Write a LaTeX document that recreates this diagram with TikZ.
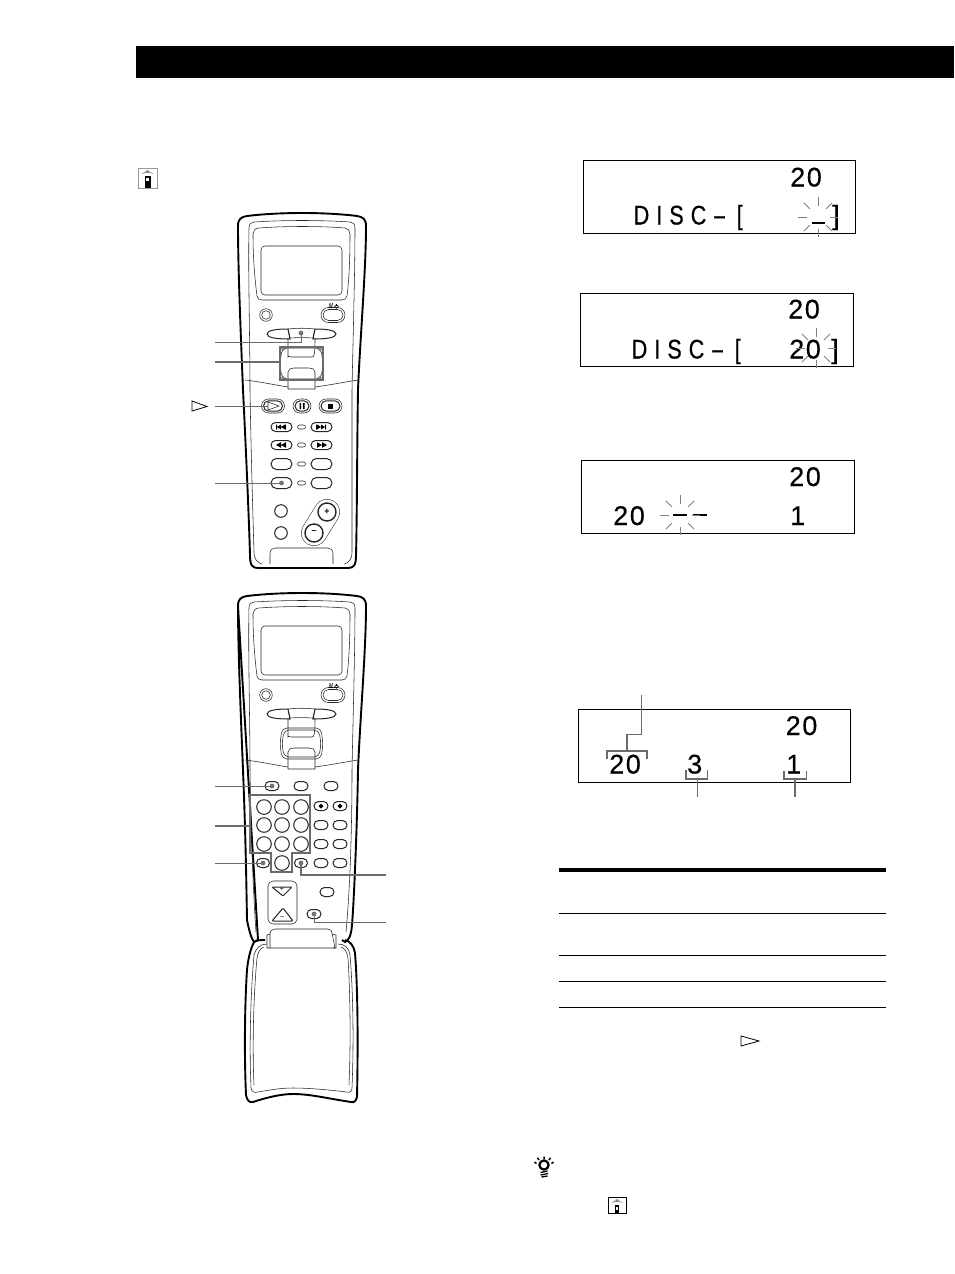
\documentclass[tikz,border=0pt]{standalone}
\usepackage{fontspec}
\setmainfont{Liberation Sans}
\newfontfamily\lcdfont[LetterSpace=6,FakeBold=0.25]{Liberation Sans}
\newfontfamily\lcdwide[LetterSpace=26,FakeStretch=0.8,FakeBold=0.35]{Liberation Sans}
\colorlet{linegray}{black!58}
\newcommand{\longdash}{\kern6pt\scalebox{2}[1]{-}\kern10pt}
\tikzset{
  thinl/.style={line width=0.55pt,draw=black!85},
  medl/.style={line width=1pt,draw=black!85},
  outerl/.style={line width=1.9pt,draw=black,line join=round},
  callout/.style={line width=0.9pt,draw=linegray},
  calloutb/.style={line width=1.5pt,draw=linegray},
  lcdbox/.style={line width=0.9pt,draw=black},
  ray/.style={line width=0.8pt,draw=black!50},
  lcd/.style={anchor=base west,inner sep=0pt,font=\lcdfont\fontsize{27}{27}\selectfont},
  lcdw/.style={anchor=base west,inner sep=0pt,font=\lcdwide\fontsize{27}{27}\selectfont},
  rule/.style={line width=1pt,draw=black},
  gdot/.style={fill=black!55,draw=none},
  smalltxt/.style={inner sep=0pt,font=\fontsize{7}{7}\selectfont\bfseries}
}
% x, y, half width, half height, style
\newcommand{\pill}[5][thinl]{\draw[#1,fill=white,rounded corners={#5 pt}] ({#2-#4},{#3-#5}) rectangle ({#2+#4},{#3+#5});}
\newcommand{\burst}[2]{\foreach \a in {0,45,...,315}{\draw[ray] ({#1+11.5*cos(\a)},{#2+11.5*sin(\a)}) -- ({#1+20*cos(\a)},{#2+20*sin(\a)});}}
% left, top, right, bottom, frame style, bar half width
\newcommand{\infoicon}[6]{%
  \draw[#5] (#1,#2) rectangle (#3,#4);
  \fill[black] ({(#1+#3)/2-#6},{#2+7.5}) rectangle ({(#1+#3)/2+#6},{#4});
  \fill[white] ({(#1+#3)/2-#6*0.45},{#2+9.5}) rectangle ({(#1+#3)/2+#6*0.45},{#2+12.5});
  \foreach \r in {0,1.2,2.4}{\draw[line width=0.55pt,black!55] ({(#1+#3)/2-1.5-1.6*\r},{#2+3.2+\r*0.9}) .. controls ({(#1+#3)/2-1},{#2+2.2+\r*0.8}) and ({(#1+#3)/2+1},{#2+2.2+\r*0.8}) .. ({(#1+#3)/2+1.5+1.6*\r},{#2+3.2+\r*0.9});}
}
\newcommand{\headparts}{%
  % inner contour of the head
  \draw[thinl] (250,390) .. controls (250,340) and (248,270) .. (249,228) .. controls (249,224) and (251,222) .. (254,222) .. controls (285,220) and (320,220) .. (350,222) .. controls (353,222) and (355,224) .. (355,228) .. controls (355,270) and (353,340) .. (352,390);
  % display bezel and window
  \draw[thinl] (259,228) .. controls (285,226) and (320,226) .. (345,228) .. controls (348,228) and (350,231) .. (350,234) .. controls (350,260) and (349,280) .. (347,296) .. controls (346,299) and (344,300) .. (342,300) -- (262,300) .. controls (259,300) and (257,298) .. (257,296) .. controls (255,280) and (253,260) .. (253,234) .. controls (253,231) and (255,228) .. (259,228) -- cycle;
  \draw[thinl,rounded corners=4pt] (261,246) rectangle (342,295);
  % round button and power button
  \draw[thinl] (266,315) circle (6.3);
  \draw[thinl] (266,315) circle (4.3);
  \pill[thinl]{333}{315}{12}{7.5}
  \pill[thinl]{333}{315}{10}{5.5}
  \node[smalltxt] (pw) at (331,306) {I/};
  \draw[line width=0.6pt,black] (336.5,306.4) circle (1.9);
  \draw[line width=0.6pt,black] (336.5,303.6) -- (336.5,306);
  % three buttons
  \draw[medl] (288,329) .. controls (278,329) and (267,330) .. (267,334) .. controls (267,338) and (278,339) .. (290,339) -- cycle;
  \draw[medl] (315,329) .. controls (325,329) and (336,330) .. (336,334) .. controls (336,338) and (325,339) .. (313,339) -- cycle;
  \draw[thinl] (288,329) .. controls (297,328) and (306,328) .. (315,329) -- (313,338) .. controls (305,337.5) and (298,337.5) .. (290,338) -- cycle;
  % stem and joystick
  \draw[thinl] (288,338) -- (288,357) .. controls (288,356) and (289,356.5) .. (291,357) -- (312,357) .. controls (314,356.5) and (315,356) .. (315,338);
  \draw[thinl] (288,389) -- (288,372) .. controls (288,369) and (291,368) .. (294,368) -- (309,368) .. controls (312,368) and (315,369) .. (315,372) -- (315,389) -- (288,389);
  \draw[thinl,rounded corners=5pt] (282,348) -- (321,348) -- (323,364) -- (321,379) -- (282,379) -- (280,364) -- cycle;
  % sweep of the panel edge
  \draw[thinl] (245,380) .. controls (262,382) and (275,385) .. (288,387);
  \draw[thinl] (315,387) .. controls (330,385) and (345,382) .. (358,380);
}
\begin{document}
\begin{tikzpicture}[x=1pt,y=-1pt]
\useasboundingbox (0,0) rectangle (954,1274);
\fill[white] (0,0) rectangle (954,1274);
% header band
\fill[black] (136,46) rectangle (954,78);
\infoicon{138}{168}{157}{188}{line width=0.9pt,draw=black!40}{3}

%% ---- upper remote ----
\draw[outerl] (238,226) .. controls (238,219) and (241,217) .. (247,216) .. controls (280,212) and (325,212) .. (357,216) .. controls (363,217) and (366,219) .. (366,226) .. controls (366,270) and (360,340) .. (358,390) .. controls (357,450) and (357,520) .. (356,555) .. controls (356,565) and (354,568) .. (348,568) -- (258,568) .. controls (252,568) and (250,565) .. (250,555) .. controls (249,520) and (246,450) .. (243,390) .. controls (241,340) and (238,270) .. (238,226) -- cycle;
\headparts
\draw[thinl] (250,390) .. controls (251,450) and (253,520) .. (254,552) .. controls (254,560) and (258,563) .. (262,564);
\draw[thinl] (352,390) .. controls (352,450) and (352,520) .. (352,552) .. controls (352,560) and (348,563) .. (344,564);
% transport row
\pill[thinl]{273}{406}{11.5}{7}\pill[medl]{273}{406}{9.5}{5.2}
\pill[thinl]{302}{406}{9}{7}\pill[medl]{302}{406}{7}{5.2}
\pill[thinl]{330.5}{406}{11.5}{7}\pill[medl]{330.5}{406}{9.5}{5.2}
\draw[thinl] (268,402) -- (279,406) -- (268,410) -- cycle;
\fill[black] (299.5,403) rectangle (301.2,409) (302.8,403) rectangle (304.5,409);
\fill[black] (328,403.5) rectangle (333,408.5);
% rows
\foreach \yy/\ry in {427/4.5,445/4.5,464/5.5,483/5.5}{
  \pill[medl]{281.5}{\yy}{10.5}{\ry}
  \pill[medl]{321.5}{\yy}{10.5}{\ry}
  \pill[thinl]{301.5}{\yy}{4}{2}
}
\fill[black] (276,424.5) rectangle (277,429.5) (277,427) -- (281,424.5) -- (281,429.5) -- cycle (281,427) -- (285,424.5) -- (285,429.5) -- cycle (285,424.5) rectangle (286,429.5);
\fill[black] (316,424.5) rectangle (317,429.5) (317,424.5) -- (321,427) -- (317,429.5) -- cycle (321,424.5) -- (325,427) -- (321,429.5) -- cycle (325,424.5) rectangle (326,429.5);
\fill[black] (276,445) -- (281,442.2) -- (281,447.8) -- cycle (281,445) -- (286,442.2) -- (286,447.8) -- cycle;
\fill[black] (317,442.2) -- (322,445) -- (317,447.8) -- cycle (322,442.2) -- (327,445) -- (322,447.8) -- cycle;
% small round buttons
\draw[medl] (281,511) circle (6.3);
\draw[medl] (281,533) circle (6.3);
% volume capsule
\draw[line width=26pt,line cap=round,black!85] (327,512) -- (314,533);
\draw[line width=25pt,line cap=round,white] (327,512) -- (314,533);
\draw[medl,line width=1.4pt,fill=white] (327,512) circle (9);
\draw[medl,line width=1.4pt,fill=white] (314,533) circle (9);
\node[inner sep=0pt,font=\fontsize{9}{9}\selectfont\bfseries] (volp) at (327,511.5) {+};
\node[inner sep=0pt,font=\fontsize{9}{9}\selectfont\bfseries] (volm) at (314,532.5) {–};
% tab
\draw[thinl] (270,564) -- (270,554) .. controls (270,550) and (272,548) .. (275,548) -- (328,548) .. controls (331,548) and (333,550) .. (333,554) -- (333,564);
% highlights + callouts
\draw[calloutb] (280,347) rectangle (323,380);
\foreach \cx/\cy in {283/349,320/349,283/378,320/378}{\draw[thinl,fill=white] (\cx,\cy) circle (1.6);}
\coordinate (a1s) at (215,342);\coordinate (a1e) at (301,333);
\draw[callout] (a1s) -| (a1e);
\fill[gdot] (a1e) circle (2.4);
\coordinate (a2s) at (215,362);\coordinate (a2e) at (280,362);
\draw[calloutb] (a2s) -- (a2e);
\coordinate (a3s) at (215,406.5);\coordinate (a3e) at (268,406.5);
\draw[callout] (a3s) -- (a3e);
\coordinate (a4s) at (215,483);\coordinate (a4e) at (281.5,483);
\draw[callout] (a4s) -- (a4e);
\fill[gdot] (a4e) circle (2.4);
\draw[line width=0.8pt,black] (192,401) -- (207,406.5) -- (192,411) -- cycle;

%% ---- lower remote ----
\begin{scope}[shift={(0,380)}]
\draw[outerl] (238,226) .. controls (238,219) and (241,217) .. (247,216) .. controls (280,212) and (325,212) .. (357,216) .. controls (363,217) and (366,219) .. (366,226) .. controls (366,270) and (360,340) .. (358,390) .. controls (357,450) and (354,520) .. (352,545) .. controls (351,556) and (349,560) .. (345,562) -- (342,560) (258,560) -- (254,562) .. controls (251,558) and (249,550) .. (247,540) .. controls (246,480) and (245,440) .. (243,390) .. controls (241,340) and (238,270) .. (238,226) -- cycle;
\headparts
\draw[thinl] (250,390) .. controls (251,450) and (253,510) .. (256,552);
\draw[thinl] (352,390) .. controls (352,450) and (350,510) .. (346,552);
\end{scope}
% double line round the lower joystick is in \headparts
\draw[thinl,rounded corners=5pt] (284,730) -- (319,730) -- (321,744) -- (319,757) -- (284,757) -- (282,744) -- cycle;
% function row
\pill[medl]{272}{786}{7}{4.5}
\pill[medl]{301}{786}{7}{4.5}
\pill[medl]{331}{786}{7}{4.5}
\fill[gdot] (272,786) circle (2.4);
% numeric keys
\foreach \kx in {264,282,301}{\foreach \ky in {807,825,844}{\draw[medl] (\kx,\ky) circle (7.3);}}
\draw[medl] (282,863) circle (7.3);
\foreach \kx in {321,340}{\foreach \ky in {806,825,844,863}{\pill[medl]{\kx}{\ky}{7}{4.5}}}
\fill[black] (321,803.5) -- (323.5,806) -- (321,808.5) -- (318.5,806) -- cycle (340,803.5) -- (342.5,806) -- (340,808.5) -- (337.5,806) -- cycle;
\pill[medl]{263}{863}{6.5}{4.5}
\pill[medl]{301}{863}{6.5}{4.5}
% volume box
\draw[thinl,rounded corners=5pt] (268,881) rectangle (297,924);
\draw[medl,rounded corners=1pt] (272,887) -- (292,887) -- (283,896) -- cycle;
\draw[medl,rounded corners=1pt] (272,921) -- (293,921) -- (283,908) -- cycle;
\node[inner sep=0pt,font=\fontsize{7}{7}\selectfont] (vp2) at (282,889) {+};
\node[inner sep=0pt,font=\fontsize{7}{7}\selectfont] (vm2) at (282,917) {–};
\pill[medl]{327}{892}{7}{4.5}
\pill[medl]{314}{914}{7}{4.5}
% lid
\draw[outerl] (254,942) .. controls (257,940) and (261,940) .. (265,940) (345,940) .. controls (350,941) and (354,946) .. (355,953) .. controls (358,990) and (358,1050) .. (357,1097) .. controls (356,1101) and (354,1103) .. (351,1102) .. controls (325,1098) and (310,1094) .. (293,1094) .. controls (280,1094) and (265,1098) .. (253,1102) .. controls (249,1103) and (247,1100) .. (246,1095) .. controls (244,1050) and (245,1000) .. (247,970) .. controls (248,960) and (250,950) .. (254,942);
\draw[thinl] (267,944) .. controls (260,944) and (256,948) .. (254,955) .. controls (251,990) and (249,1040) .. (251,1088) .. controls (252,1092) and (254,1093) .. (258,1092) .. controls (270,1090) and (280,1088) .. (293,1088) .. controls (310,1088) and (330,1090) .. (347,1092) .. controls (350,1093) and (352,1091) .. (352,1088) .. controls (354,1040) and (353,990) .. (350,955) .. controls (349,948) and (345,944) .. (338,944);
\draw[thinl] (264,947) .. controls (260,948) and (258,952) .. (257,958) .. controls (254,990) and (252,1040) .. (254,1085);
\draw[thinl] (341,947) .. controls (345,948) and (347,952) .. (348,958) .. controls (350,990) and (351,1040) .. (349,1085);
\draw[thinl,fill=white] (270,948) -- (270,933) .. controls (270,931) and (272,929) .. (275,929) -- (328,929) .. controls (331,929) and (332,931) .. (332,933) -- (335,948) -- cycle;
\draw[thinl] (270,934) -- (267,935) -- (267,948) -- (270,948) (332,934) -- (336,935) -- (336,948) -- (333,948);
% keypad outline + callouts
\draw[calloutb] (250,795) -- (310,795) -- (310,853) -- (292,853) -- (292,872) -- (271,872) -- (271,853) -- (250,853) -- cycle;
\coordinate (b1s) at (215,786);\coordinate (b1e) at (272,786);
\draw[callout] (b1s) -- (b1e);
\coordinate (b2s) at (215,826);\coordinate (b2e) at (250,826);
\draw[calloutb] (b2s) -- (b2e);
\coordinate (b3s) at (215,863);\coordinate (b3e) at (263,863);
\draw[callout] (b3s) -- (b3e);
\fill[gdot] (b3e) circle (2.4);
\coordinate (b4s) at (386,875);\coordinate (b4e) at (301,863);
\draw[calloutb] (b4s) -| (b4e);
\fill[gdot] (b4e) circle (2.4);
\coordinate (b5s) at (386,922);\coordinate (b5e) at (314,914);
\draw[callout] (b5s) -| (b5e);
\fill[gdot] (b5e) circle (2.4);

%% ---- displays ----
\draw[lcdbox] (583,160.5) rectangle (855.5,233.5);
\node[lcd] (d1n) at (790,186.5) {20};
\node[lcdw] (d1t) at (633.5,224.5) {DISC\longdash[};
\node[lcd] (d1b) at (832,224.5) {]};
\draw[line width=2pt,black] (812,223) -- (825,223);
\burst{818}{217}

\draw[lcdbox] (580.5,293.5) rectangle (853.5,366.5);
\node[lcd] (d2n) at (788,318.5) {20};
\node[lcdw] (d2t) at (631.5,358.5) {DISC\longdash[};
\node[lcd] (d2v) at (789,358.5) {20};
\node[lcd] (d2b) at (831,358.5) {]};
\burst{816}{348}

\draw[lcdbox] (581.5,460.5) rectangle (854.5,533.5);
\node[lcd] (d3n) at (789,486) {20};
\node[lcd] (d3a) at (613,525) {20};
\draw[line width=2pt,black] (673,515) -- (687,515) (693,515) -- (707,515);
\node[lcd] (d3c) at (790,525) {1};
\burst{680}{515}

\draw[lcdbox] (578,709.5) rectangle (850.5,782);
\node[lcd] (d4n) at (785.5,735) {20};
\node[lcd] (d4a) at (609,773.5) {20};
\node[lcd] (d4b) at (687,773.5) {3};
\node[lcd] (d4c) at (786,773.5) {1};
\draw[callout,line width=1.2pt] (607,759) |- (647,751) -- (647,759);
\coordinate (e1s) at (641.5,695);\coordinate (e1m) at (627,734);\coordinate (e1e) at (627,751);
\draw[callout] (e1s) -- (641.5,734) -- (e1m);\draw[calloutb] (e1m) -- (e1e);
\draw[callout,line width=1.2pt] (686,770) |- (707.5,779) -- (707.5,770);
\coordinate (e2s) at (697,779);\coordinate (e2e) at (697,797);
\draw[callout] (e2s) -- (e2e);
\draw[callout,line width=1.2pt] (784,771) |- (806.5,779) -- (806.5,771);
\coordinate (e3s) at (795,779);\coordinate (e3e) at (795,797);
\draw[calloutb] (e3s) -- (e3e);

%% ---- table rules ----
\draw[black,line width=4pt] (559,870) -- (886,870);
\foreach \ry in {913,955,981,1007}{\draw[rule] (559,\ry) -- (886,\ry);}
\draw[line width=0.8pt,black] (741,1036) -- (759,1041) -- (741,1046) -- cycle;

%% ---- tip bulb and icon ----
\draw[line width=2.2pt,black] (544,1165) circle (4.6);
\fill[white] (539,1169) -- (542,1171) -- (538,1172) -- cycle;
\draw[line width=1.3pt,black] (540.5,1172.5) -- (547.5,1171) (540.5,1175) -- (548,1173.5) (541.5,1177) -- (547.5,1176);
\draw[line width=1.5pt,black] (544,1159) -- (544,1156.5) (539,1160) -- (537.5,1157.8) (549,1160) -- (550.5,1157.8) (536.5,1163.5) -- (534.5,1162) (551.5,1163.5) -- (553.5,1162);
\infoicon{608}{1197}{626}{1213}{line width=1pt,draw=black}{2.4}
\end{tikzpicture}
\end{document}
